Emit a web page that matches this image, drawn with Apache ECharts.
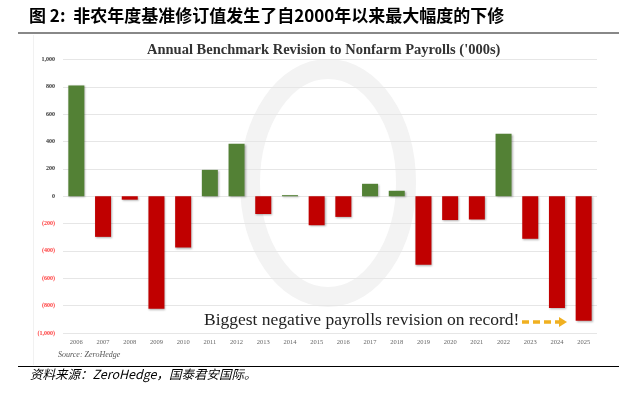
<!DOCTYPE html>
<html>
<head>
<meta charset="utf-8">
<script src="https://cdn.jsdelivr.net/npm/echarts@6/dist/echarts.min.js"></script>
<style>
  html, body { margin: 0; padding: 0; background: #fff; }
  #main { width: 624px; height: 397px; }
</style>
</head>
<body>
<div id="main"></div>
<script>
// 年份
var years = ['2006', '2007', '2008', '2009', '2010', '2011', '2012', '2013', '2014', '2015',
  '2016', '2017', '2018', '2019', '2020', '2021', '2022', '2023', '2024', '2025'];
// 基准修订值（千人）
var revisions = [810, -297, -25, -823, -375, 193, 383, -130, 8, -212,
  -151, 91, 40, -501, -174, -170, 457, -311, -818, -911];
var yTicks = [-1000, -800, -600, -400, -200, 0, 200, 400, 600, 800, 1000];

var myChart = echarts.init(document.getElementById('main'));

function fmt(v) {
  var s = Math.abs(v).toLocaleString('en-US');
  return v < 0 ? '(' + s + ')' : s;
}

var option = {
  backgroundColor: '#fff',
  animation: false,
  title: {
    text: "Annual Benchmark Revision to Nonfarm Payrolls ('000s)",
    left: 142,
    top: 38,
    textStyle: {
      fontFamily: 'Liberation Serif',
      fontSize: 14.5,
      fontWeight: 'bold',
      color: '#333'
    }
  },
  grid: { left: 63, right: 27, top: 59.5, bottom: 64 },
  xAxis: {
    type: 'category',
    data: years,
    axisLine: { show: false, onZero: false },
    axisTick: { show: false },
    axisLabel: {
      color: '#666',
      fontFamily: 'Liberation Serif',
      fontSize: 6.5,
      margin: 6
    }
  },
  yAxis: {
    type: 'value',
    min: yTicks[0],
    max: yTicks[yTicks.length - 1],
    interval: 200,
    axisLine: { show: false },
    axisTick: { show: false },
    splitLine: { lineStyle: { color: '#e6e6e6', width: 1 } },
    axisLabel: {
      fontFamily: 'Liberation Serif',
      fontSize: 6,
      fontWeight: 'bold',
      margin: 8,
      formatter: fmt,
      color: function (v) { return v < 0 ? '#ff3b3b' : '#333'; }
    }
  },
  graphic: [
    // 图标题
    { type: 'text', left: 29, top: 7, style: {
        text: '图 2:  非农年度基准修订值发生了自2000年以来最大幅度的下修',
        font: 'bold 17px "Noto Sans CJK SC"', fill: '#000' } },
    { type: 'rect', shape: { x: 18, y: 32, width: 601, height: 2 }, style: { fill: '#888' } },
    { type: 'rect', shape: { x: 33, y: 35, width: 0.8, height: 330 }, style: { fill: '#eee' } },
    // 水印
    { type: 'ellipse', z: -1, shape: { cx: 328, cy: 183, rx: 78, ry: 114 },
      style: { fill: 'none', stroke: '#f3f3f3', lineWidth: 20 } },
    { type: 'text', left: 58, top: 351, style: {
        text: 'Source: ZeroHedge', font: 'italic 8px "Liberation Serif"', fill: '#555',
        shadowBlur: 2, shadowColor: 'rgba(0,0,0,0.3)', shadowOffsetX: 1, shadowOffsetY: 1 } },
    { type: 'text', left: 204, top: 311, style: {
        text: 'Biggest negative payrolls revision on record!',
        font: '17.5px "Liberation Serif"', fill: '#222',
        shadowBlur: 2, shadowColor: 'rgba(0,0,0,0.35)', shadowOffsetX: 1, shadowOffsetY: 1 } },
    { type: 'line', shape: { x1: 522, y1: 322, x2: 560, y2: 322 },
      style: { stroke: '#f0b020', lineWidth: 3.5, lineDash: [7, 4] } },
    { type: 'polygon', shape: { points: [[559, 317], [567, 322], [559, 327]] }, style: { fill: '#f0b020' } },
    { type: 'rect', shape: { x: 18, y: 366, width: 601, height: 1 }, style: { fill: '#000' } },
    { type: 'text', left: 30, top: 368, style: {
        text: '资料来源：ZeroHedge，国泰君安国际。',
        font: 'italic 12.5px "Noto Sans CJK SC"', fill: '#000' } }
  ],
  series: [
    {
      type: 'bar',
      barWidth: 16,
      data: revisions.map(function (v) {
        return {
          value: v,
          itemStyle: {
            color: v >= 0 ? '#538135' : '#c00000',
            shadowBlur: 2,
            shadowColor: 'rgba(0,0,0,0.3)',
            shadowOffsetX: 1,
            shadowOffsetY: 1
          }
        };
      })
    }
  ]
};
option && myChart.setOption(option);
</script>
</body>
</html>
